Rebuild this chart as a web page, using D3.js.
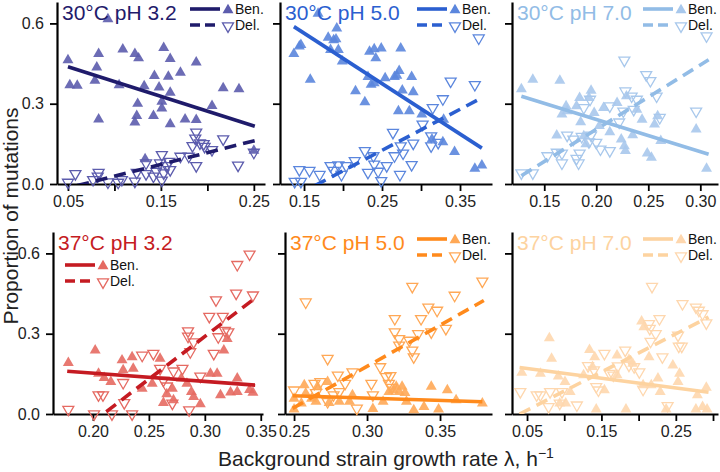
<!DOCTYPE html>
<html><head><meta charset="utf-8">
<script src="https://cdn.jsdelivr.net/npm/d3@7"></script>
<style>body{margin:0;background:#fff}svg{display:block;font-family:"Liberation Sans",Arial,Helvetica,sans-serif}</style>
</head><body><svg id="c" width="720" height="472"></svg>
<script>
// ---------- DATA ----------
const titles = ["30°C pH 3.2","30°C pH 5.0","30°C pH 7.0","37°C pH 3.2","37°C pH 5.0","37°C pH 7.0"];
const lineColors = ["#1f1b6b","#2b5fd0","#92bce6","#c51b22","#ff8a1c","#fdd3a0"];
const markColors = ["#5c5cad","#5b86dd","#a8c8ec","#e56a62","#ffa856","#fed7ae"];
const xDomains = [[0.0382,0.262],[0.1192,0.391],[0.119,0.317],[0.1643,0.352],[0.2438,0.3856],[0.0298,0.3067]];
const yDomain = [0,0.68];
const xTicks = [[0.05,0.10,0.15,0.20,0.25],[0.15,0.20,0.25,0.30,0.35],[0.15,0.20,0.25,0.30],[0.20,0.25,0.30,0.35],[0.25,0.30,0.35],[0.05,0.10,0.15,0.20,0.25,0.30]];
const xTickLabels = [[0.05,0.15,0.25],[0.15,0.25,0.35],[0.15,0.20,0.25,0.30],[0.20,0.25,0.30,0.35],[0.25,0.30,0.35],[0.05,0.15,0.25]];
const yTicks = [0.0,0.3,0.6];
const legendLabels = ["Ben.","Del."];
const yLabel = "Proportion of mutations";
const xLabel = "Background strain growth rate λ, h";

const p1Ben = [[0.05,0.463],[0.052,0.37],[0.06,0.368],[0.083,0.486],[0.081,0.436],[0.079,0.386],[0.083,0.242],[0.093,0.616],[0.109,0.503],[0.105,0.37],[0.122,0.486],[0.126,0.47],[0.132,0.366],[0.125,0.30],[0.124,0.255],[0.122,0.23],[0.133,0.093],[0.143,0.404],[0.142,0.255],[0.148,0.361],[0.151,0.308],[0.151,0.283],[0.153,0.509],[0.16,0.468],[0.158,0.401],[0.16,0.342],[0.16,0.224],[0.171,0.416],[0.176,0.242],[0.188,0.455],[0.188,0.24],[0.205,0.292],[0.217,0.358],[0.234,0.355],[0.25,0.125]];
const p1Del = [[0.05,0.006],[0.058,0.038],[0.077,0.016],[0.083,0.043],[0.082,0.029],[0.093,0.007],[0.104,0.006],[0.108,0.016],[0.122,0.01],[0.124,0.043],[0.134,0.078],[0.134,0.038],[0.142,0.029],[0.145,0.047],[0.149,0.078],[0.151,0.109],[0.153,0.041],[0.151,0.014],[0.156,0.068],[0.16,0.053],[0.159,0.084],[0.171,0.103],[0.18,0.103],[0.188,0.068],[0.184,0.143],[0.188,0.193],[0.187,0.171],[0.192,0.153],[0.196,0.15],[0.197,0.14],[0.205,0.128],[0.217,0.168],[0.233,0.07],[0.25,0.118]];
const p2Ben = [[0.168,0.637],[0.137,0.486],[0.144,0.514],[0.146,0.52],[0.158,0.39],[0.181,0.547],[0.184,0.501],[0.188,0.538],[0.192,0.582],[0.191,0.541],[0.194,0.501],[0.199,0.458],[0.234,0.495],[0.24,0.504],[0.242,0.47],[0.249,0.507],[0.274,0.507],[0.232,0.40],[0.236,0.371],[0.24,0.377],[0.254,0.396],[0.266,0.40],[0.269,0.405],[0.272,0.423],[0.288,0.40],[0.216,0.347],[0.228,0.306],[0.276,0.35],[0.29,0.343],[0.271,0.272],[0.285,0.272],[0.301,0.26],[0.314,0.167],[0.329,0.241],[0.343,0.12],[0.369,0.058],[0.378,0.07],[0.328,0.157]];
const p2Del = [[0.138,0.009],[0.146,0.009],[0.144,0.053],[0.157,0.05],[0.17,0.035],[0.184,0.068],[0.188,0.05],[0.194,0.071],[0.198,0.035],[0.204,0.068],[0.215,0.087],[0.228,0.124],[0.232,0.043],[0.239,0.105],[0.24,0.074],[0.245,0.047],[0.249,0.012],[0.256,0.068],[0.264,0.192],[0.266,0.105],[0.273,0.035],[0.274,0.142],[0.277,0.115],[0.288,0.072],[0.29,0.152],[0.302,0.223],[0.313,0.179],[0.315,0.285],[0.313,0.142],[0.322,0.155],[0.328,0.318],[0.338,0.384],[0.369,0.371],[0.374,0.545]];
const p3Ben = [[0.128,0.355],[0.139,0.39],[0.165,0.386],[0.162,0.182],[0.167,0.26],[0.171,0.291],[0.172,0.272],[0.181,0.291],[0.184,0.322],[0.185,0.231],[0.193,0.322],[0.195,0.349],[0.188,0.179],[0.19,0.149],[0.198,0.266],[0.203,0.217],[0.207,0.285],[0.213,0.194],[0.22,0.303],[0.224,0.167],[0.227,0.142],[0.228,0.124],[0.229,0.328],[0.235,0.183],[0.239,0.278],[0.244,0.241],[0.249,0.115],[0.253,0.099],[0.256,0.223],[0.259,0.254],[0.262,0.161],[0.296,0.204],[0.306,0.058]];
const p3Del = [[0.128,0.041],[0.139,0.041],[0.153,0.105],[0.162,0.118],[0.167,0.115],[0.167,0.078],[0.172,0.182],[0.178,0.167],[0.181,0.095],[0.183,0.078],[0.184,0.115],[0.186,0.177],[0.188,0.285],[0.193,0.157],[0.194,0.316],[0.195,0.182],[0.2,0.155],[0.204,0.13],[0.213,0.124],[0.213,0.291],[0.222,0.231],[0.226,0.272],[0.227,0.462],[0.228,0.347],[0.234,0.328],[0.239,0.316],[0.236,0.278],[0.248,0.408],[0.252,0.386],[0.258,0.328],[0.261,0.248],[0.296,0.272],[0.306,0.553]];
const p4Ben = [[0.178,0.191],[0.202,0.238],[0.205,0.151],[0.21,0.135],[0.216,0.12],[0.226,0.201],[0.227,0.164],[0.235,0.213],[0.236,0.17],[0.244,0.095],[0.26,0.207],[0.253,0.114],[0.263,0.042],[0.266,0.074],[0.271,0.095],[0.272,0.052],[0.279,0.133],[0.284,0.114],[0.288,0.083],[0.29,0.064],[0.296,0.037],[0.305,0.151],[0.311,0.151],[0.317,0.238],[0.32,0.281],[0.314,0.071],[0.323,0.081],[0.329,0.083],[0.329,0.133],[0.34,0.09],[0.343,0.08]];
const p4Del = [[0.178,0.017],[0.201,0.0],[0.205,0.071],[0.209,0.071],[0.217,0.0],[0.227,0.117],[0.228,0.042],[0.235,0.0],[0.244,0.219],[0.254,0.226],[0.26,0.17],[0.263,0.126],[0.266,0.104],[0.272,0.16],[0.271,0.04],[0.28,0.17],[0.285,0.31],[0.285,0.29],[0.287,0.232],[0.29,0.269],[0.286,0.015],[0.296,0.141],[0.304,0.364],[0.308,0.226],[0.31,0.426],[0.312,0.288],[0.316,0.364],[0.318,0.312],[0.321,0.306],[0.328,0.451],[0.329,0.558],[0.34,0.597],[0.343,0.444]];
const p5Ben = [[0.25,0.017],[0.257,0.108],[0.258,0.077],[0.262,0.058],[0.265,0.046],[0.266,0.102],[0.273,0.12],[0.274,0.042],[0.281,0.046],[0.288,0.046],[0.29,0.071],[0.304,0.019],[0.311,0.046],[0.315,0.083],[0.318,0.089],[0.32,0.102],[0.322,0.083],[0.324,0.102],[0.326,0.079],[0.327,0.046],[0.332,0.015],[0.339,0.027],[0.344,0.102],[0.349,0.017],[0.355,0.089],[0.361,0.052],[0.379,0.04],[0.25,0.058],[0.255,0.04]];
const p5Del = [[0.25,0.089],[0.258,0.418],[0.264,0.114],[0.265,0.079],[0.268,0.12],[0.273,0.207],[0.273,0.046],[0.277,0.071],[0.28,0.145],[0.281,0.083],[0.285,0.114],[0.29,0.157],[0.293,0.021],[0.303,0.114],[0.304,0.071],[0.309,0.176],[0.313,0.139],[0.315,0.114],[0.316,0.143],[0.317,0.099],[0.319,0.356],[0.319,0.306],[0.322,0.257],[0.322,0.281],[0.329,0.275],[0.331,0.476],[0.331,0.238],[0.332,0.213],[0.335,0.3],[0.337,0.356],[0.342,0.399],[0.344,0.306],[0.348,0.387],[0.354,0.319],[0.36,0.443],[0.379,0.496]];
const p6Ben = [[0.043,0.155],[0.068,0.151],[0.08,0.284],[0.083,0.207],[0.092,0.141],[0.094,0.04],[0.101,0.12],[0.102,0.04],[0.108,0.083],[0.126,0.145],[0.134,0.24],[0.138,0.176],[0.141,0.213],[0.143,0.017],[0.154,0.089],[0.171,0.219],[0.171,0.145],[0.183,0.017],[0.187,0.203],[0.192,0.188],[0.204,0.346],[0.206,0.108],[0.207,0.325],[0.214,0.213],[0.217,0.108],[0.226,0.133],[0.229,0.083],[0.237,0.017],[0.246,0.182],[0.253,0.12],[0.255,0.151],[0.277,0.017],[0.279,0.071],[0.291,0.099],[0.292,0.017],[0.286,0.027]];
const p6Del = [[0.041,0.083],[0.063,0.071],[0.068,0.071],[0.079,0.027],[0.081,0.083],[0.094,0.04],[0.097,0.083],[0.117,0.033],[0.132,0.18],[0.14,0.164],[0.143,0.102],[0.146,0.089],[0.154,0.226],[0.161,0.151],[0.166,0.145],[0.172,0.179],[0.182,0.238],[0.187,0.182],[0.194,0.176],[0.201,0.157],[0.206,0.092],[0.214,0.337],[0.215,0.319],[0.216,0.271],[0.218,0.476],[0.223,0.3],[0.228,0.356],[0.232,0.213],[0.239,0.031],[0.253,0.294],[0.254,0.253],[0.258,0.253],[0.259,0.412],[0.277,0.399],[0.281,0.387],[0.286,0.374],[0.291,0.34]];

const fitBen = [[[0.05,0.438],[0.251,0.216]],[[0.137,0.588],[0.378,0.134]],[[0.128,0.328],[0.308,0.111]],[[0.177,0.16],[0.345,0.108]],[[0.249,0.068],[0.379,0.046]],[[0.04,0.174],[0.294,0.081]]];
const fitDel = [[[0.06,-0.006],[0.251,0.162]],[[0.164,-0.006],[0.378,0.322]],[[0.128,0.031],[0.308,0.464]],[[0.212,0.009],[0.345,0.433]],[[0.249,0.021],[0.38,0.424]],[[0.04,0.0],[0.294,0.362]]];

const benSets = [p1Ben,p2Ben,p3Ben,p4Ben,p5Ben,p6Ben];
const delSets = [p1Del,p2Del,p3Del,p4Del,p5Del,p6Del];

// ---------- LAYOUT ----------
const layout = [
  {x0:57,x1:265,y0:184,y1:2,legend:"right"},
  {x0:280,x1:492,y0:184,y1:2,legend:"right"},
  {x0:512,x1:718,y0:184,y1:2,legend:"right"},
  {x0:53,x1:263,y0:414,y1:232,legend:"left"},
  {x0:285,x1:492,y0:414,y1:232,legend:"right"},
  {x0:512,x1:718,y0:414,y1:232,legend:"right"}
];

const svg = d3.select("#c");
const triUp = d3.symbol().type(d3.symbolTriangle).size(52)();
const f2 = d3.format(".2f"), f1 = d3.format(".1f");

layout.forEach((L,i)=>{
  const x = d3.scaleLinear().domain(xDomains[i]).range([L.x0,L.x1]);
  const y = d3.scaleLinear().domain(yDomain).range([L.y0,L.y1]);
  const g = svg.append("g");
  const lc = lineColors[i], mc = markColors[i];

  // axes
  const labelled = new Set(xTickLabels[i].map(v=>v.toFixed(2)));
  const ax = d3.axisBottom(x).tickValues(xTicks[i]).tickSize(7).tickPadding(5).tickSizeOuter(0)
     .tickFormat(v=>labelled.has(v.toFixed(2))?f2(v):"");
  const ay = d3.axisLeft(y).tickValues(yTicks).tickSize(7).tickPadding(6).tickSizeOuter(0)
     .tickFormat(v=> (i%3===0)?f1(v):"");
  const gx = g.append("g").attr("transform",`translate(0,${L.y0})`).call(ax);
  const gy = g.append("g").attr("transform",`translate(${L.x0},0)`).call(ay);
  [gx,gy].forEach(a=>{
    a.select(".domain").attr("stroke","#000").attr("stroke-width",2.2);
    a.selectAll(".tick line").attr("stroke","#000").attr("stroke-width",1.8);
    a.selectAll(".tick text").attr("fill","#222").style("font-size","16px").style("font-family","'Liberation Sans',Arial,sans-serif");
  });

  // markers
  g.append("g").selectAll("path").data(delSets[i]).join("path")
    .attr("d",triUp).attr("transform",d=>`translate(${x(d[0])},${y(d[1])}) rotate(180)`)
    .attr("fill","none").attr("stroke",mc).attr("stroke-width",1.3);
  g.append("g").selectAll("path").data(benSets[i]).join("path")
    .attr("d",triUp).attr("transform",d=>`translate(${x(d[0])},${y(d[1])})`)
    .attr("fill",mc).attr("fill-opacity",0.9);

  // fit lines (clipped)
  const cid = "clip"+i;
  svg.append("clipPath").attr("id",cid).append("rect")
    .attr("x",L.x0+1).attr("y",L.y1).attr("width",L.x1-L.x0).attr("height",L.y0-L.y1);
  const line = d3.line().x(d=>x(d[0])).y(d=>y(d[1]));
  g.append("path").datum(fitBen[i]).attr("d",line).attr("clip-path",`url(#${cid})`)
    .attr("stroke",lc).attr("stroke-width",3.6).attr("fill","none");
  g.append("path").datum(fitDel[i]).attr("d",line).attr("clip-path",`url(#${cid})`)
    .attr("stroke",lc).attr("stroke-width",3.6).attr("fill","none").attr("stroke-dasharray","12,7");

  // title
  const tyBase = L.y1 + 18;
  g.append("text").attr("x",L.x0+5).attr("y",tyBase).text(titles[i])
    .attr("fill",lc).style("font-size","21px");

  // legend
  let lx0, ly;
  if (L.legend==="right"){ lx0 = L.x1-75; ly = L.y1+7; }
  else { lx0 = L.x0+12; ly = L.y1+33; }
  const rows = [{dash:null,filled:true},{dash:"10,5",filled:false}];
  rows.forEach((r,k)=>{
    const yy = ly + k*16;
    g.append("line").attr("x1",lx0).attr("x2",lx0+30).attr("y1",yy).attr("y2",yy)
      .attr("stroke",lc).attr("stroke-width",3.6).attr("stroke-dasharray",r.dash);
    g.append("path").attr("d",triUp)
      .attr("transform",`translate(${lx0+38},${yy+1}) ${r.filled?"":"rotate(180)"}`)
      .attr("fill",r.filled?mc:"none").attr("stroke",r.filled?"none":mc).attr("stroke-width",1.3);
    g.append("text").attr("x",lx0+45).attr("y",yy+5).text(legendLabels[k])
      .attr("fill","#111").style("font-size","14px");
  });
});

// axis titles
svg.append("text").attr("transform","translate(18,216) rotate(-90)").attr("text-anchor","middle")
  .attr("fill","#222").style("font-size","21px").text(yLabel);
const xt = svg.append("text").attr("x",386).attr("y",466).attr("text-anchor","middle")
  .attr("fill","#222").style("font-size","21px").text(xLabel);
xt.append("tspan").attr("dy",-8).style("font-size","14px").text("−1");
</script></body></html>
